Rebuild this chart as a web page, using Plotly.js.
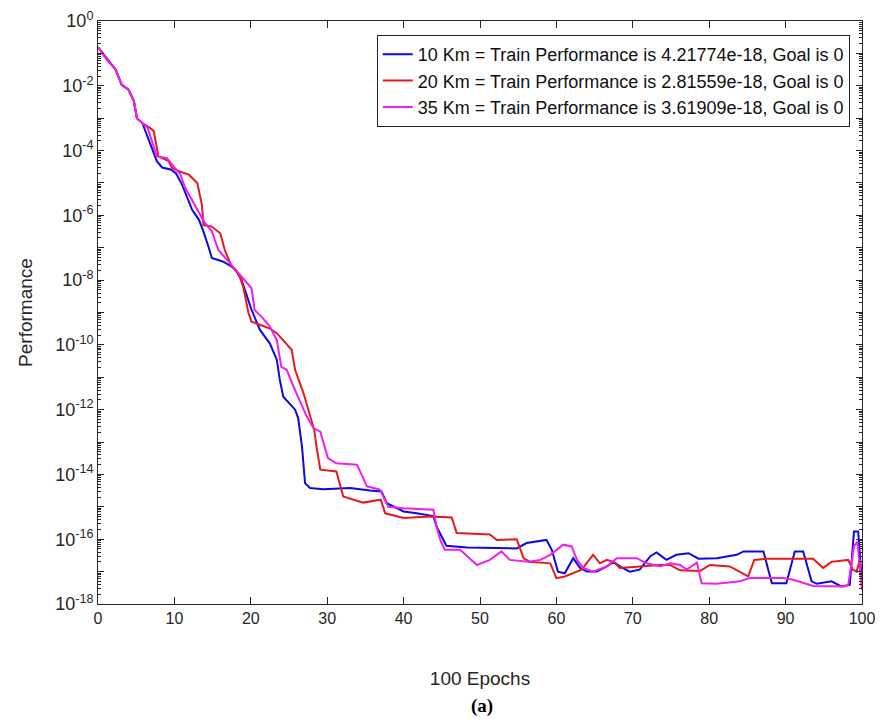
<!DOCTYPE html>
<html>
<head>
<meta charset="utf-8">
<script src="https://cdn.plot.ly/plotly-3.0.1.min.js"></script>
<style>html,body{margin:0;padding:0;background:#fff;}#chart{width:883px;height:720px;}</style>
</head>
<body>
<div id="chart"></div>
<script>
// ---- data ----
const seriesNames = [
  "10 Km = Train Performance is 4.21774e-18, Goal is 0",
  "20 Km = Train Performance is 2.81559e-18, Goal is 0",
  "35 Km = Train Performance is 3.61909e-18, Goal is 0"
];

const km10_x = [0,1.2,2.3,3.1,4.0,4.7,5.1,5.8,6.2,7.0,7.7,8.4,9.5,10.2,11.0,12.0,12.3,13.2,13.8,14.5,14.9,16.4,17.9,18.8,19.5,20.1,21.2,22.5,23.4,23.8,24.25,25.8,26.2,26.7,27.1,27.75,29.5,33.0,35.6,37.1,37.8,40.0,41.7,43.9,44.3,45.6,48.3,54.8,56.1,58.7,59.4,60.2,61.1,62.2,63.1,64.0,65.3,66.6,67.5,68.3,69.6,70.9,72.3,73.1,74.4,75.7,77.3,78.6,81.0,83.6,84.5,87.1,88.2,90.1,91.2,92.3,93.4,94.1,96.0,97.3,98.4,98.95,99.5,99.8,100];
const km10_y = [1.55e-1,6.5e-2,3.2e-2,1.07e-2,7.6e-3,3.3e-3,1.0e-3,7.1e-4,4.0e-4,1.26e-4,4.7e-5,3.0e-5,2.6e-5,2.0e-5,8.9e-6,2.3e-6,1.5e-6,7.4e-7,3.2e-7,1.0e-7,4.8e-8,3.7e-8,2.3e-8,1.0e-8,3.1e-9,1.2e-9,2.9e-10,1.1e-10,3.5e-11,8.3e-12,2.5e-12,1.0e-12,5.5e-13,7.2e-14,5.4e-15,3.8e-15,3.5e-15,3.8e-15,3.2e-15,3.0e-15,1.3e-15,7.2e-16,6.3e-16,5.2e-16,2.5e-16,6.3e-17,5.6e-17,5.2e-17,7.6e-17,9.5e-17,4.7e-17,1.0e-17,8.9e-18,2.6e-17,1.3e-17,1.0e-17,1.0e-17,1.45e-17,2.0e-17,1.45e-17,1.0e-17,1.15e-17,3.0e-17,3.9e-17,2.3e-17,3.3e-17,3.7e-17,2.5e-17,2.6e-17,3.3e-17,4.2e-17,4.2e-17,4.4e-18,4.4e-18,4.2e-17,4.2e-17,5.0e-18,4.2e-18,5.0e-18,3.5e-18,3.9e-18,1.74e-16,1.74e-16,2.0e-17,4.22e-18];

const km20_x = [0,1.2,2.3,3.1,4.0,4.7,5.1,5.8,6.8,7.3,7.9,9.25,9.7,10.6,11.9,13.0,13.6,13.8,14.9,16.0,16.6,17.5,18.4,19.0,19.7,20.1,21.2,22.5,23.4,24.7,25.35,25.8,26.9,27.9,28.3,28.6,29.1,31.2,31.7,32.1,34.7,37.0,37.6,40.0,43.5,46.3,46.95,51.3,52.2,54.8,55.7,56.5,59.2,60.0,61.1,62.7,63.3,64.8,65.7,66.6,67.5,68.3,70.9,73.6,74.9,76.2,78.8,80.1,82.7,85.1,85.9,87.5,93.6,94.9,96.0,98.2,98.8,99.3,99.7,100];
const km20_y = [1.55e-1,6.3e-2,3.2e-2,1.07e-2,7.6e-3,3.3e-3,1.0e-3,7.1e-4,5.0e-4,4.0e-4,6.6e-5,4.7e-5,2.9e-5,2.3e-5,1.8e-5,1.0e-5,2.1e-6,5.0e-7,4.5e-7,2.8e-7,8.5e-8,2.6e-8,1.6e-8,6.3e-9,9.5e-10,5.2e-10,4.2e-10,3.2e-10,2.3e-10,1.0e-10,7.1e-11,1.7e-11,3.2e-12,5.0e-13,2.4e-13,7.2e-14,1.4e-14,1.23e-14,4.3e-15,2.1e-15,1.35e-15,1.66e-15,6.3e-16,4.5e-16,5.0e-16,4.7e-16,1.55e-16,1.4e-16,9.5e-17,1.0e-16,2.6e-17,2.0e-17,1.8e-17,6.3e-18,7.1e-18,1.0e-17,1.15e-17,3.3e-17,1.8e-17,2.3e-17,2.0e-17,1.3e-17,1.45e-17,1.6e-17,1.6e-17,1.1e-17,1.05e-17,1.6e-17,1.45e-17,7.1e-18,2.3e-17,2.5e-17,2.5e-17,1.3e-17,2.0e-17,2.3e-17,1.15e-17,1.0e-17,2.3e-17,2.82e-18];

const km35_x = [0,1.2,2.3,3.1,4.0,4.7,5.1,5.8,6.5,7.7,9.0,9.7,10.8,11.4,12.7,13.9,14.9,15.75,17.3,19.0,20.1,20.5,21.6,22.5,23.4,24.0,24.7,25.6,27.3,28.2,29.1,30.1,31.2,33.9,35.2,36.9,38.0,40.0,43.9,44.3,44.8,45.4,47.4,49.6,51.3,52.8,53.9,56.3,57.9,59.2,60.9,62.0,62.7,63.5,64.8,66.6,67.9,70.5,71.8,73.6,74.9,76.2,77.05,78.4,79.0,81.0,84.0,85.3,89.7,91.0,93.6,97.6,98.2,98.95,99.4,99.7,100];
const km35_y = [1.55e-1,6.3e-2,3.2e-2,1.1e-2,7.6e-3,3.3e-3,1.0e-3,7.1e-4,5.0e-4,6.6e-5,5.9e-5,3.7e-5,1.8e-5,7.1e-6,2.1e-6,6.3e-7,3.2e-7,8.5e-8,3.3e-8,1.15e-8,5.6e-9,1.2e-9,6.6e-10,3.7e-10,1.4e-10,2.1e-11,1.7e-11,5.1e-12,6.3e-13,2.7e-13,2.1e-13,3.2e-14,2.2e-14,2.0e-14,4.3e-15,3.4e-15,1.0e-15,9.1e-16,8.1e-16,2.5e-16,9.5e-17,4.7e-17,4.7e-17,1.6e-17,2.3e-17,4.2e-17,2.3e-17,2.0e-17,2.3e-17,3.3e-17,6.8e-17,6.0e-17,2.3e-17,1.3e-17,1.0e-17,1.45e-17,2.6e-17,2.6e-17,1.8e-17,1.45e-17,1.8e-17,1.6e-17,1.15e-17,1.9e-17,4.4e-18,4.2e-18,5.0e-18,6.3e-18,6.3e-18,5.6e-18,3.6e-18,3.5e-18,3.9e-18,6.0e-17,8.5e-17,1.45e-17,3.62e-18];

// tick labels (every 2 decades labelled; odd decades ticked without label)
const yTickVals = [1,1e-1,1e-2,1e-3,1e-4,1e-5,1e-6,1e-7,1e-8,1e-9,1e-10,1e-11,1e-12,1e-13,1e-14,1e-15,1e-16,1e-17,1e-18];
const yTickText = ["10<sup>0</sup>"," ","10<sup>-2</sup>"," ","10<sup>-4</sup>"," ","10<sup>-6</sup>"," ","10<sup>-8</sup>"," ","10<sup>-10</sup>"," ","10<sup>-12</sup>"," ","10<sup>-14</sup>"," ","10<sup>-16</sup>"," ","10<sup>-18</sup>"];
const xTickVals = [0,10,20,30,40,50,60,70,80,90,100];

// minor tick positions (2..9 within each decade) for the log axis decoration
const yMinorVals = [];
for (let e = -18; e < 0; e++) {
  for (let m = 2; m <= 9; m++) yMinorVals.push(m * Math.pow(10, e));
}

const colors = ["#0a0ae6","#e61a1a","#f01ef0"];
const FONT = "Liberation Sans, Arial, Helvetica, sans-serif";
const GRAY = "#262626";

const traces = [
  {x: km10_x, y: km10_y, name: seriesNames[0]},
  {x: km20_x, y: km20_y, name: seriesNames[1]},
  {x: km35_x, y: km35_y, name: seriesNames[2]}
].map((t, i) => Object.assign(t, {
  type: "scatter", mode: "lines",
  line: {color: colors[i], width: 2}
}));

const axisCommon = {
  showline: true, linecolor: GRAY, linewidth: 1, mirror: "ticks",
  ticks: "inside", tickcolor: GRAY, showgrid: false, zeroline: false
};

const layout = {
  width: 883, height: 720,
  margin: {l: 98, r: 21, t: 21, b: 116},
  paper_bgcolor: "#fff", plot_bgcolor: "#fff",
  showlegend: true,
  legend: {
    x: 0.984, y: 0.976, xanchor: "right", yanchor: "top",
    bgcolor: "#fff", bordercolor: "#222", borderwidth: 1,
    font: {family: FONT, size: 18, color: "#111"},
    tracegroupgap: 0
  },
  xaxis: Object.assign({}, axisCommon, {
    range: [0, 100], tickvals: xTickVals, ticklen: 7,
    tickfont: {family: FONT, size: 16, color: GRAY},
    title: {text: "100 Epochs", font: {family: FONT, size: 19, color: GRAY}, standoff: 45}
  }),
  yaxis: Object.assign({}, axisCommon, {
    type: "log", range: [-18, 0], tickvals: yTickVals, ticktext: yTickText, ticklen: 6,
    tickfont: {family: FONT, size: 18, color: GRAY},
    minor: {ticks: "inside", tickmode: "array", tickvals: yMinorVals, ticklen: 3, tickwidth: 1, tickcolor: GRAY, showgrid: false},
    title: {text: "Performance", font: {family: FONT, size: 19, color: GRAY}, standoff: 17}
  }),
  annotations: [{
    text: "<b>(a)</b>", xref: "paper", yref: "paper", x: 0.503, y: -0.175,
    xanchor: "center", yanchor: "middle", showarrow: false,
    font: {family: "Liberation Serif, Times New Roman, serif", size: 19, color: "#000"}
  }]
};

Plotly.newPlot("chart", traces, layout, {displayModeBar: false, staticPlot: true});
</script>
</body>
</html>
